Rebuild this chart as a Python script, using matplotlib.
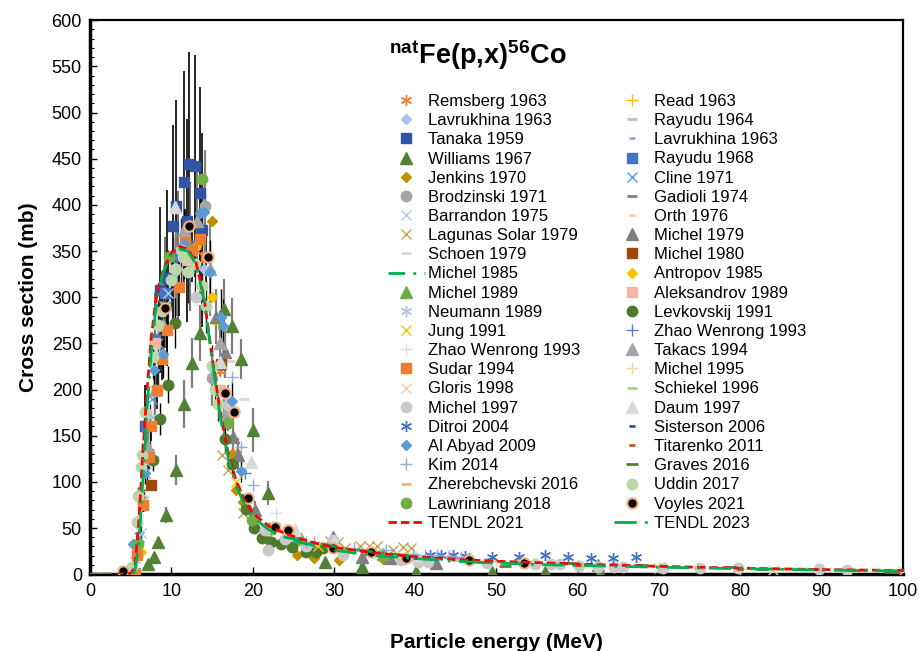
import matplotlib
matplotlib.use('Agg')
import matplotlib.pyplot as plt
from matplotlib.ticker import MultipleLocator

plt.rcParams['font.family'] = ['Liberation Sans', 'DejaVu Sans']
plt.rcParams['mathtext.fontset'] = 'custom'
plt.rcParams['mathtext.rm'] = 'Liberation Sans'
plt.rcParams['mathtext.bf'] = 'Liberation Sans:bold'

# 測定データ (エネルギー MeV, 断面積 mb)
remsberg_e = [13.0, 16.0, 18.0]
remsberg_s = [350, 220, 130]
read_e = [15.7]
read_s = [271]
lavrukhina_d_e = [14.0]
lavrukhina_d_s = [330]
rayudu64_e = [25.0, 35.0]
rayudu64_s = [40, 25]
tanaka_e = [6.7, 8.6, 9.4, 10.2, 10.5, 11.6, 11.9, 12.1, 12.9, 13.5, 13.7]
tanaka_s = [160, 308, 321, 377, 399, 425, 383, 444, 442, 413, 373]
tanaka_err = [45, 90, 95, 110, 115, 120, 110, 122, 120, 115, 105]
lavrukhina_m_e = [30.0, 45.0]
lavrukhina_m_s = [28, 17]
williams_e = [7.1, 7.9, 8.4, 9.3, 10.5, 11.6, 12.5, 13.5, 16.5, 17.5, 18.5, 20.0, 21.9,
              28.9, 33.4, 40.1, 49.5, 56.0, 62.8]
williams_s = [11, 19, 35, 64, 113, 184, 229, 261, 287, 269, 233, 156, 88, 13, 8, 2.5, 2.5, 2, 1]
williams_err = [2, 3, 5, 9, 16, 26, 27, 30, 33, 30, 22, 24, 13, 3, 2, 1, 1, 1, 1]
rayudu68_e = [6.9, 8.0, 9.2, 10.8, 12.3]
rayudu68_s = [160, 255, 305, 345, 355]
rayudu68_err = [30, 50, 60, 70, 70]
jenkins_e = [15.0, 17.5, 17.9, 18.8, 25.4, 27.6, 30.6, 36.0]
jenkins_s = [383, 130, 91, 78, 20.6, 18, 15, 16]
cline_e = [6.0, 6.8, 7.6, 8.4, 9.3]
cline_s = [40, 110, 190, 250, 290]
brodzinski_e = [10.5, 14.1, 15.0, 16.5]
brodzinski_s = [330, 399, 212, 170]
brodzinski_err = [50, 60, 30, 25]
gadioli_e = [20.0, 25.0, 30.0, 35.0, 40.0]
gadioli_s = [70, 42, 30, 24, 20]
barrandon_e = [6.2, 6.6, 7.0, 7.4, 7.9, 8.3, 8.7, 9.1, 9.6, 10.2]
barrandon_s = [45, 80, 120, 160, 200, 240, 265, 290, 305, 320]
barrandon_err = [8, 12, 18, 24, 30, 36, 40, 44, 46, 48]
orth_e = [35.0, 50.0]
orth_s = [22, 14]
lagunas_e = [6.4, 16.2, 17.0, 18.8, 22.0, 27.0, 29.5, 30.5, 31.3, 33.2, 34.3, 35.3, 37.3, 38.5, 39.5]
lagunas_s = [88, 129, 113, 66, 40, 32, 36, 35, 28, 31, 31, 30, 26, 29.6, 28]
michel79_e = [15.5, 16.6, 17.6, 18.2, 20.3, 24.5, 29.9, 33.4, 36.9, 42.6, 62.5]
michel79_s = [279, 241, 149, 129, 69, 45, 40, 18.8, 17, 11.6, 9.8]
michel79_err = [30, 28, 20, 18, 10, 6, 5, 3, 3, 2, 2]
schoen_e = [17.2, 18.9]
schoen_s = [231, 190]
michel80_e = [7.5, 16.1]
michel80_s = [97, 228]
michel85_e = [24.0, 28.0, 32.0, 36.0, 40.0]
michel85_s = [40, 33, 27, 23, 19]
antropov_e = [6.3, 13.0, 15.0]
antropov_s = [24, 355, 300]
michel89_e = [22.0, 26.0, 36.0]
michel89_s = [50, 38, 22]
aleksandrov_e = [8.0, 12.0, 16.0]
aleksandrov_s = [250, 340, 200]
neumann_e = [5.5, 6.5, 7.5, 8.5]
neumann_s = [15, 80, 170, 240]
levkovskij_e = [7.7, 8.6, 9.6, 10.4, 16.6, 17.5, 19.2, 20.2, 21.1, 22.3, 23.5, 24.8, 26.6, 27.8, 28.7]
levkovskij_s = [124, 168, 205, 272, 146, 119, 71, 49.5, 38.7, 35, 32.5, 29, 24, 24, 28]
levkovskij_err = [12, 17, 20, 27, 15, 12, 7, 5, 4, 4, 3, 3, 3, 3, 3]
jung_e = [18.0, 22.0, 28.0]
jung_s = [100, 50, 30]
zhao_a_e = [6.5, 8.0, 12.0, 22.9]
zhao_a_s = [80, 240, 330, 66]
zhao_b_e = [16.0, 19.0, 25.0]
zhao_b_s = [230, 110, 40]
sudar_e = [5.5, 5.8, 6.5, 7.2, 7.5, 8.2, 8.8, 9.4, 10.9, 11.7, 12.5, 13.5, 14.3]
sudar_s = [1, 21, 75, 127, 160, 199, 233, 264, 311, 360, 351, 363, 344]
sudar_err = [1, 3, 8, 13, 16, 20, 23, 26, 31, 36, 35, 36, 34]
takacs_e = [7.1, 8.0, 9.0, 11.5, 13.1, 14.7, 16.0, 17.0]
takacs_s = [138, 200, 270, 373, 383, 330, 250, 180]
takacs_err = [20, 30, 40, 55, 55, 50, 35, 25]
michel95_e = [30.0, 40.0, 50.0, 60.0, 70.0, 80.0, 90.0]
michel95_s = [30, 20, 13, 10, 8, 6, 5]
gloris_e = [70.0, 84.0, 100.0]
gloris_s = [7, 5, 3.5]
schiekel_e = [45.0, 55.0, 65.0, 75.0, 85.0, 95.0]
schiekel_s = [15, 12, 9, 7, 6, 4.5]
michel97_e = [13.0, 17.0, 21.5, 21.9, 24.0, 26.5, 29.9, 31.1, 38.3, 40.3, 41.6, 48.9, 54.8, 56.7,
              57.8, 60.2, 62.5, 64.5, 65.6, 70.5, 75.1, 79.8, 89.7, 93.2]
michel97_s = [300, 183, 48, 26, 38, 30, 37, 20.6, 15, 13, 13, 11.6, 10.5, 10.5, 10.5, 9, 8, 8, 8,
              6.8, 6.8, 6.8, 5.4, 4.3]
daum_e = [10.4, 16.0, 19.8, 25.2, 30.0, 40.0]
daum_s = [398, 230, 122, 48, 35, 20]
ditroi_e = [41.8, 43.2, 44.6, 46.1, 49.5, 52.8, 56.0, 58.8, 61.7, 64.4, 67.2]
ditroi_s = [20.6, 20.6, 20.6, 19.5, 18.8, 18.8, 21, 18.8, 18, 18, 18.8]
sisterson_e = [40.0, 60.0, 80.0, 100.0]
sisterson_s = [18, 10, 6, 4]
alabyad_e = [5.3, 6.7, 7.8, 9.0, 11.6, 13.5, 14.0, 14.7, 16.1, 16.4, 17.4, 18.5]
alabyad_s = [33, 110, 221, 238, 358, 391, 392, 327, 279, 269, 188, 112]
alabyad_err = [4, 12, 24, 26, 38, 42, 42, 35, 30, 29, 20, 12]
titarenko_e = [60.0, 80.0, 99.2]
titarenko_s = [10, 6, 2.5]
kim_e = [17.4, 18.6, 20.0, 26.6, 27.6, 32.5, 36.4, 39.7, 41.2, 42.7, 44.2, 45.7]
kim_s = [214, 138, 97, 35, 35, 28, 26, 22, 21, 21, 20, 19]
graves_e = [48.5, 51.0, 58.8, 67.8, 78.8, 82.7, 89.0, 94.0, 98.4]
graves_s = [13.4, 9, 12, 9.8, 8, 5.4, 5.4, 4, 2.5]
zherebchevski_e = [53.0, 75.0]
zherebchevski_s = [13, 7]
uddin_e = [5.2, 5.8, 5.9, 6.2, 6.4, 6.8, 7.7, 8.4, 8.8, 9.9, 10.4, 11.2, 11.4, 12.0, 12.9, 13.8,
           14.2, 15.0, 15.4, 15.7]
uddin_s = [8, 57, 85, 116, 129, 176, 235, 270, 285, 319, 331, 351, 344, 327, 336, 312, 290, 225,
           200, 184]
uddin_err = [2, 6, 9, 12, 13, 18, 24, 27, 29, 32, 33, 35, 34, 33, 34, 31, 29, 23, 20, 18]
lawriniang_e = [5.9, 9.7, 13.8, 17.0, 19.9]
lawriniang_s = [33, 344, 428, 164, 59]
voyles_e = [4.0, 9.2, 12.2, 14.5, 16.6, 17.7, 19.4, 22.7, 24.4, 29.9, 34.6, 38.9, 46.6, 53.4]
voyles_s = [3, 288, 377, 344, 196, 176, 82, 51, 48, 28.5, 23.5, 17.7, 15, 12]

# TENDL 計算値
tendl21_e = [0, 4, 5, 5.5, 6, 6.5, 7, 7.5, 8, 8.5, 9, 10, 11, 12, 13, 14, 15, 16, 17, 18, 19, 20,
             22, 24, 26, 28, 30, 35, 40, 45, 50, 55, 60, 70, 80, 90, 100]
tendl21_s = [0, 0, 1, 8, 60, 135, 200, 255, 292, 315, 330, 348, 355, 352, 338, 300, 235, 175, 130,
             100, 80, 66, 52, 44, 38, 33, 29, 23, 19, 16, 14, 12.5, 11, 8.5, 6.5, 5, 4]
tendl23_e = [0, 4, 5, 5.5, 6, 6.5, 7, 7.5, 8, 8.5, 9, 10, 11, 12, 13, 14, 15, 16, 17, 18, 19, 20,
             22, 24, 26, 28, 30, 35, 40, 45, 50, 55, 60, 70, 80, 90, 100]
tendl23_s = [0, 0, 0, 3, 35, 105, 180, 240, 282, 310, 328, 346, 352, 350, 336, 298, 232, 170, 125,
             95, 75, 62, 48, 40, 34, 30, 26, 20, 17, 14, 12, 10.5, 9.5, 7.5, 6, 4.5, 3.5]

star6 = (6, 2, 0)

# (label, E, sigma, style)
col1 = [
    ('Remsberg 1963', remsberg_e, remsberg_s, dict(marker=star6, color='#ED7D31', ms=8)),
    ('Lavrukhina 1963', lavrukhina_d_e, lavrukhina_d_s, dict(marker='D', color='#A9C4EB', ms=5.5)),
    ('Tanaka 1959', tanaka_e, tanaka_s, dict(marker='s', color='#2F55A4', ms=7.5)),
    ('Williams 1967', williams_e, williams_s, dict(marker='^', color='#548235', ms=8)),
    ('Jenkins 1970', jenkins_e, jenkins_s, dict(marker='D', color='#BF9000', ms=5.5)),
    ('Brodzinski 1971', brodzinski_e, brodzinski_s, dict(marker='o', color='#A5A5A5', ms=7.5)),
    ('Barrandon 1975', barrandon_e, barrandon_s, dict(marker='x', color='#B4C7E7', ms=7, mew=1)),
    ('Lagunas Solar 1979', lagunas_e, lagunas_s, dict(marker='x', color='#C9A24A', ms=7, mew=1)),
    ('Schoen 1979', schoen_e, schoen_s, dict(marker='_', color='#D9D9D9', ms=7, mew=2)),
    ('Michel 1985', michel85_e, michel85_s, dict(marker='', ls=(0, (6, 3, 1, 3)), color='#00B050', lw=2)),
    ('Michel 1989', michel89_e, michel89_s, dict(marker='^', color='#70AD47', ms=8)),
    ('Neumann 1989', neumann_e, neumann_s, dict(marker=star6, color='#B4C0E4', ms=8)),
    ('Jung 1991', jung_e, jung_s, dict(marker='x', color='#FFC000', ms=7, mew=1)),
    ('Zhao Wenrong 1993', zhao_a_e, zhao_a_s, dict(marker='+', color='#D6DCE5', ms=9, mew=1)),
    ('Sudar 1994', sudar_e, sudar_s, dict(marker='s', color='#ED7D31', ms=7.5)),
    ('Gloris 1998', gloris_e, gloris_s, dict(marker='x', color='#F8CBAD', ms=7, mew=1)),
    ('Michel 1997', michel97_e, michel97_s, dict(marker='o', color='#C9C9C9', ms=7.5)),
    ('Ditroi 2004', ditroi_e, ditroi_s, dict(marker=star6, color='#4472C4', ms=8)),
    ('Al Abyad 2009', alabyad_e, alabyad_s, dict(marker='D', color='#5B9BD5', ms=5.5)),
    ('Kim 2014', kim_e, kim_s, dict(marker='+', color='#8FAADC', ms=9, mew=1)),
    ('Zherebchevski 2016', zherebchevski_e, zherebchevski_s, dict(marker='_', color='#F4B183', ms=7, mew=2)),
    ('Lawriniang 2018', lawriniang_e, lawriniang_s, dict(marker='o', color='#70AD47', ms=7.5)),
    ('TENDL 2021', tendl21_e, tendl21_s, dict(marker='', ls=(0, (3, 1.5)), color='#FF0000', lw=2)),
]
col2 = [
    ('Read 1963', read_e, read_s, dict(marker='+', color='#FFC000', ms=9, mew=1)),
    ('Rayudu 1964', rayudu64_e, rayudu64_s, dict(marker='_', color='#BFBFBF', ms=7, mew=2)),
    ('Lavrukhina 1963', lavrukhina_m_e, lavrukhina_m_s, dict(marker='_', color='#8FAADC', ms=5, mew=2)),
    ('Rayudu 1968', rayudu68_e, rayudu68_s, dict(marker='s', color='#4472C4', ms=7.5)),
    ('Cline 1971', cline_e, cline_s, dict(marker='x', color='#5B9BD5', ms=7, mew=1)),
    ('Gadioli 1974', gadioli_e, gadioli_s, dict(marker='_', color='#7F7F7F', ms=7, mew=2)),
    ('Orth 1976', orth_e, orth_s, dict(marker='_', color='#F8CBAD', ms=5, mew=2)),
    ('Michel 1979', michel79_e, michel79_s, dict(marker='^', color='#7F7F7F', ms=8)),
    ('Michel 1980', michel80_e, michel80_s, dict(marker='s', color='#9E480E', ms=7.5)),
    ('Antropov 1985', antropov_e, antropov_s, dict(marker='D', color='#FFC000', ms=5.5)),
    ('Aleksandrov 1989', aleksandrov_e, aleksandrov_s, dict(marker='s', color='#F4B6A3', ms=7.5)),
    ('Levkovskij 1991', levkovskij_e, levkovskij_s, dict(marker='o', color='#4E7A2E', ms=7.5)),
    ('Zhao Wenrong 1993', zhao_b_e, zhao_b_s, dict(marker='+', color='#4F81BD', ms=9, mew=1)),
    ('Takacs 1994', takacs_e, takacs_s, dict(marker='^', color='#A5A5A5', ms=8)),
    ('Michel 1995', michel95_e, michel95_s, dict(marker='+', color='#FFD699', ms=9, mew=1)),
    ('Schiekel 1996', schiekel_e, schiekel_s, dict(marker='_', color='#A9D18E', ms=7, mew=2)),
    ('Daum 1997', daum_e, daum_s, dict(marker='^', color='#D9D9D9', ms=8)),
    ('Sisterson 2006', sisterson_e, sisterson_s, dict(marker='_', color='#2F5597', ms=5, mew=2)),
    ('Titarenko 2011', titarenko_e, titarenko_s, dict(marker='_', color='#C55A11', ms=5, mew=2)),
    ('Graves 2016', graves_e, graves_s, dict(marker='_', color='#548235', ms=8, mew=2)),
    ('Uddin 2017', uddin_e, uddin_s, dict(marker='o', color='#B9D7A8', ms=7.5)),
    ('Voyles 2021', voyles_e, voyles_s, dict(marker='o', color='black', ms=7.5, mec='#F4B183', mew=1.5)),
    ('TENDL 2023', tendl23_e, tendl23_s, dict(marker='', ls=(0, (8, 3, 1, 3)), color='#00B050', lw=2)),
]

# エラーバー
errors = [
    (williams_e, williams_s, williams_err, '#7F7F7F', 1.6),
    (tanaka_e, tanaka_s, tanaka_err, 'black', 1.2),
    (rayudu68_e, rayudu68_s, rayudu68_err, '#595959', 1.2),
    (barrandon_e, barrandon_s, barrandon_err, '#262626', 1.0),
    (takacs_e, takacs_s, takacs_err, '#7F7F7F', 1.4),
    (uddin_e, uddin_s, uddin_err, '#262626', 1.0),
    (sudar_e, sudar_s, sudar_err, 'black', 1.2),
    (alabyad_e, alabyad_s, alabyad_err, 'black', 1.0),
    (brodzinski_e, brodzinski_s, brodzinski_err, '#808080', 1.6),
    (michel79_e, michel79_s, michel79_err, '#808080', 1.6),
    (levkovskij_e, levkovskij_s, levkovskij_err, 'black', 1.0),
]

fig = plt.figure(figsize=(9.21, 6.51), dpi=100)
ax = fig.add_axes([0.098, 0.118, 0.882, 0.851])

for e, s, err, c, w in errors:
    ax.errorbar(e, s, yerr=err, fmt='none', ecolor=c, elinewidth=w, capsize=0, zorder=1)

handles = {}
for i in range(len(col1)):
    for label, e, s, st in (col1[i], col2[i]):
        st = dict(st)
        if st.get('marker', '') == '':
            st['marker'] = None
            h, = ax.plot(e, s, label=label, zorder=4, **st)
        else:
            st.setdefault('mec', st['color'])
            h, = ax.plot(e, s, ls='none', label=label, zorder=3, **st)
        handles[(label, id(e))] = h

leg_handles = [handles[(l, id(e))] for l, e, s, st in col1] + [handles[(l, id(e))] for l, e, s, st in col2]
leg_labels = [l for l, e, s, st in col1] + [l for l, e, s, st in col2]

ax.legend(leg_handles, leg_labels, ncol=2, frameon=False, fontsize=12,
          loc='upper left', bbox_to_anchor=(388 / 921, 1 - 94 / 651), bbox_transform=fig.transFigure,
          borderaxespad=0, borderpad=0, handlelength=2.2, handletextpad=0.2,
          labelspacing=0.25, columnspacing=2.0, numpoints=1)

fig.text(478 / 921, 1 - 55 / 651, r'$\mathbf{^{nat}Fe(p{,}x)^{56}Co}$',
         ha='center', va='center', fontsize=19.5)

ax.set_xlim(0, 100)
ax.set_ylim(0, 600)
ax.xaxis.set_major_locator(MultipleLocator(10))
ax.yaxis.set_major_locator(MultipleLocator(50))
ax.yaxis.set_minor_locator(MultipleLocator(10))
ax.tick_params(axis='both', which='major', direction='in', length=5, width=1, labelsize=13, pad=6)
ax.tick_params(axis='y', which='minor', direction='in', length=3, width=0.8)
for sp in ax.spines.values():
    sp.set_linewidth(1.6)
ax.spines['bottom'].set_linewidth(2.5)
ax.spines['left'].set_linewidth(2.5)

ax.set_xlabel('Particle energy (MeV)', fontsize=15, fontweight='bold', labelpad=24)
ax.set_ylabel('Cross section (mb)', fontsize=15, fontweight='bold', labelpad=10)

fig.savefig('out.png', dpi=100)
